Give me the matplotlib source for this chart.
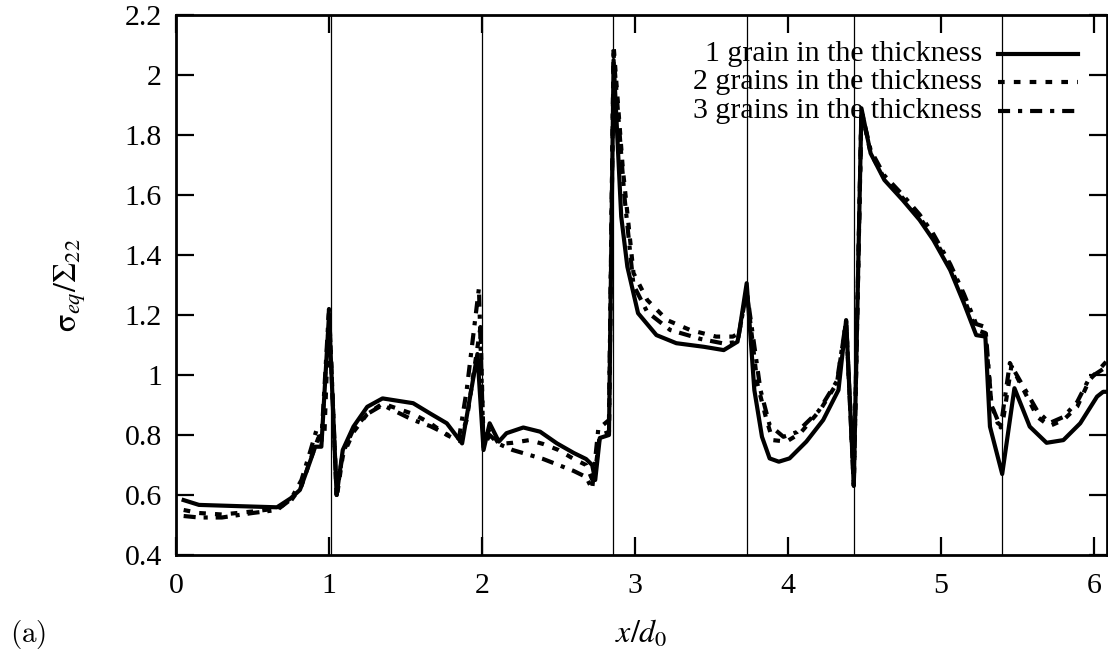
import matplotlib
matplotlib.use("Agg")
import matplotlib.pyplot as plt
from matplotlib.ticker import FuncFormatter

# --- data ---
x_1grain = [0.05, 0.15, 0.40, 0.66, 0.75, 0.81, 0.88, 0.91, 0.95, 1.00, 1.05, 1.09, 1.16,
            1.25, 1.35, 1.55, 1.66, 1.77, 1.87, 1.97, 2.01, 2.05, 2.11, 2.16, 2.27, 2.38,
            2.49, 2.60, 2.68, 2.72, 2.74, 2.77, 2.83, 2.86, 2.91, 2.95, 3.02, 3.14, 3.27,
            3.45, 3.58, 3.67, 3.68, 3.73, 3.78, 3.83, 3.88, 3.94, 4.01, 4.12, 4.23, 4.33,
            4.38, 4.43, 4.48, 4.54, 4.63, 4.75, 4.86, 4.95, 5.06, 5.15, 5.23, 5.29, 5.32,
            5.40, 5.48, 5.58, 5.69, 5.80, 5.91, 6.02, 6.06, 6.09]
y_1grain = [0.583, 0.567, 0.563, 0.559, 0.589, 0.617, 0.717, 0.761, 0.761, 1.20, 0.60, 0.75,
            0.828, 0.894, 0.922, 0.906, 0.872, 0.839, 0.772, 1.07, 0.75, 0.839, 0.778, 0.806,
            0.825, 0.811, 0.772, 0.74, 0.72, 0.70, 0.65, 0.79, 0.80, 2.05, 1.528, 1.361,
            1.206, 1.133, 1.106, 1.094, 1.083, 1.111, 1.139, 1.306, 0.95, 0.794, 0.722,
            0.711, 0.722, 0.778, 0.85, 0.95, 1.183, 0.633, 1.889, 1.739, 1.65, 1.583,
            1.517, 1.45, 1.35, 1.239, 1.133, 1.128, 0.828, 0.67, 0.956, 0.828, 0.774,
            0.783, 0.839, 0.928, 0.944, 0.944]

x_2grains = [0.05, 0.15, 0.30, 0.50, 0.66, 0.75, 0.82, 0.88, 0.93, 0.97, 1.00, 1.05, 1.09,
             1.16, 1.25, 1.35, 1.55, 1.66, 1.77, 1.85, 1.90, 1.99, 2.01, 2.05, 2.11, 2.20,
             2.31, 2.40, 2.50, 2.60, 2.68, 2.73, 2.77, 2.83, 2.86, 2.92, 2.99, 3.08, 3.21,
             3.36, 3.53, 3.64, 3.68, 3.73, 3.80, 3.86, 3.90, 3.99, 4.08, 4.21, 4.32, 4.38,
             4.43, 4.48, 4.54, 4.63, 4.75, 4.86, 4.95, 5.06, 5.15, 5.23, 5.29, 5.33, 5.37,
             5.40, 5.46, 5.54, 5.63, 5.71, 5.80, 5.89, 5.97, 6.09]
y_2grains = [0.55, 0.54, 0.535, 0.545, 0.555, 0.58, 0.63, 0.72, 0.79, 0.80, 1.22, 0.59, 0.73,
             0.81, 0.87, 0.905, 0.87, 0.84, 0.80, 0.78, 0.85, 1.16, 0.78, 0.82, 0.77, 0.774,
             0.783, 0.77, 0.75, 0.72, 0.70, 0.64, 0.80, 0.81, 2.10, 1.69, 1.34, 1.25, 1.183,
             1.15, 1.128, 1.128, 1.14, 1.28, 0.97, 0.85, 0.783, 0.778, 0.806, 0.883, 0.973,
             1.18, 0.63, 1.88, 1.74, 1.655, 1.59, 1.525, 1.46, 1.36, 1.255, 1.15, 1.14, 0.90,
             0.84, 0.83, 1.03, 0.95, 0.86, 0.83, 0.85, 0.894, 0.983, 1.05]

x_3grains = [0.05, 0.15, 0.30, 0.50, 0.66, 0.75, 0.82, 0.88, 0.92, 0.95, 1.00, 1.05, 1.09,
             1.16, 1.25, 1.35, 1.55, 1.66, 1.78, 1.85, 1.90, 1.98, 2.01, 2.05, 2.11, 2.20,
             2.40, 2.60, 2.68, 2.72, 2.76, 2.83, 2.86, 2.93, 2.99, 3.08, 3.23, 3.43, 3.58,
             3.67, 3.73, 3.82, 3.88, 3.97, 4.06, 4.20, 4.32, 4.38, 4.43, 4.48, 4.54, 4.63,
             4.75, 4.86, 4.95, 5.06, 5.15, 5.23, 5.29, 5.33, 5.39, 5.45, 5.54, 5.63, 5.71,
             5.80, 5.89, 5.97, 6.09]
y_3grains = [0.53, 0.525, 0.525, 0.54, 0.55, 0.585, 0.65, 0.75, 0.82, 0.78, 1.22, 0.60, 0.74,
             0.82, 0.87, 0.90, 0.85, 0.83, 0.80, 0.79, 0.95, 1.29, 0.76, 0.80, 0.77, 0.75,
             0.72, 0.68, 0.66, 0.62, 0.82, 0.85, 2.07, 1.60, 1.30, 1.21, 1.15, 1.12, 1.105,
             1.11, 1.28, 0.95, 0.833, 0.794, 0.81, 0.88, 0.98, 1.18, 0.63, 1.88, 1.75, 1.665,
             1.60, 1.535, 1.47, 1.37, 1.27, 1.17, 1.16, 0.90, 0.825, 1.04, 0.96, 0.88, 0.84,
             0.86, 0.91, 0.99, 1.03]

grain_boundaries = [1.013, 2.0, 2.856, 3.73, 4.43, 5.40]
labels = ["1 grain in the thickness", "2 grains in the thickness", "3 grains in the thickness"]

plt.rcParams["font.family"] = "Liberation Serif"
plt.rcParams["mathtext.fontset"] = "stix"

fig = plt.figure(figsize=(11.08, 6.57), dpi=100)
ax = fig.add_axes([176 / 1108, 102 / 657, 931 / 1108, 540 / 657])

for xb in grain_boundaries:
    ax.axvline(xb, color="black", lw=0.9, zorder=1)

styles = [
    dict(ls="-"),
    dict(ls=(0, (1.6, 2.2))),
    dict(ls=(0, (2.9, 1.9, 1.0, 1.9))),
]
series = [(x_1grain, y_1grain), (x_2grains, y_2grains), (x_3grains, y_3grains)]
for (xs, ys), st in zip(series, styles):
    ax.plot(xs, ys, color="black", lw=3.0, zorder=3, **st)

# gnuplot-like key: right-aligned text, sample line on the right
rows = [0.928, 0.876, 0.822]
for lab, st, yr in zip(labels, styles, rows):
    ax.text(0.866, yr, lab, transform=ax.transAxes, ha="right", va="center", fontsize=21.5)
    ax.plot([0.8829, 0.9689], [yr, yr], transform=ax.transAxes, color="black", lw=3.0, **st)

ax.set_xlim(0, 6.085)
ax.set_ylim(0.4, 2.2)
ax.set_xticks([0, 1, 2, 3, 4, 5, 6])
ax.set_yticks([0.4, 0.6, 0.8, 1.0, 1.2, 1.4, 1.6, 1.8, 2.0, 2.2])
ax.yaxis.set_major_formatter(FuncFormatter(lambda v, p: f"{v:g}"))
ax.tick_params(direction="in", length=13, width=1.6, top=True, right=True, labelsize=21.5)
ax.tick_params(axis="x", pad=13)
ax.tick_params(axis="y", pad=10)
for sp in ax.spines.values():
    sp.set_linewidth(2.0)

ax.text(0.5, -0.146, r"$x/d_0$", transform=ax.transAxes, ha="center", va="center", fontsize=23)
ax.text(-0.114, 0.5, r"$\mathrm{\sigma}_{eq}/\Sigma_{22}$", transform=ax.transAxes,
        ha="center", va="center", rotation=90, fontsize=23)

fig.text(0.009, 0.035, r"$\mathrm{(a)}$", fontsize=21, math_fontfamily="cm", va="center")

fig.savefig("out.png", dpi=100)
